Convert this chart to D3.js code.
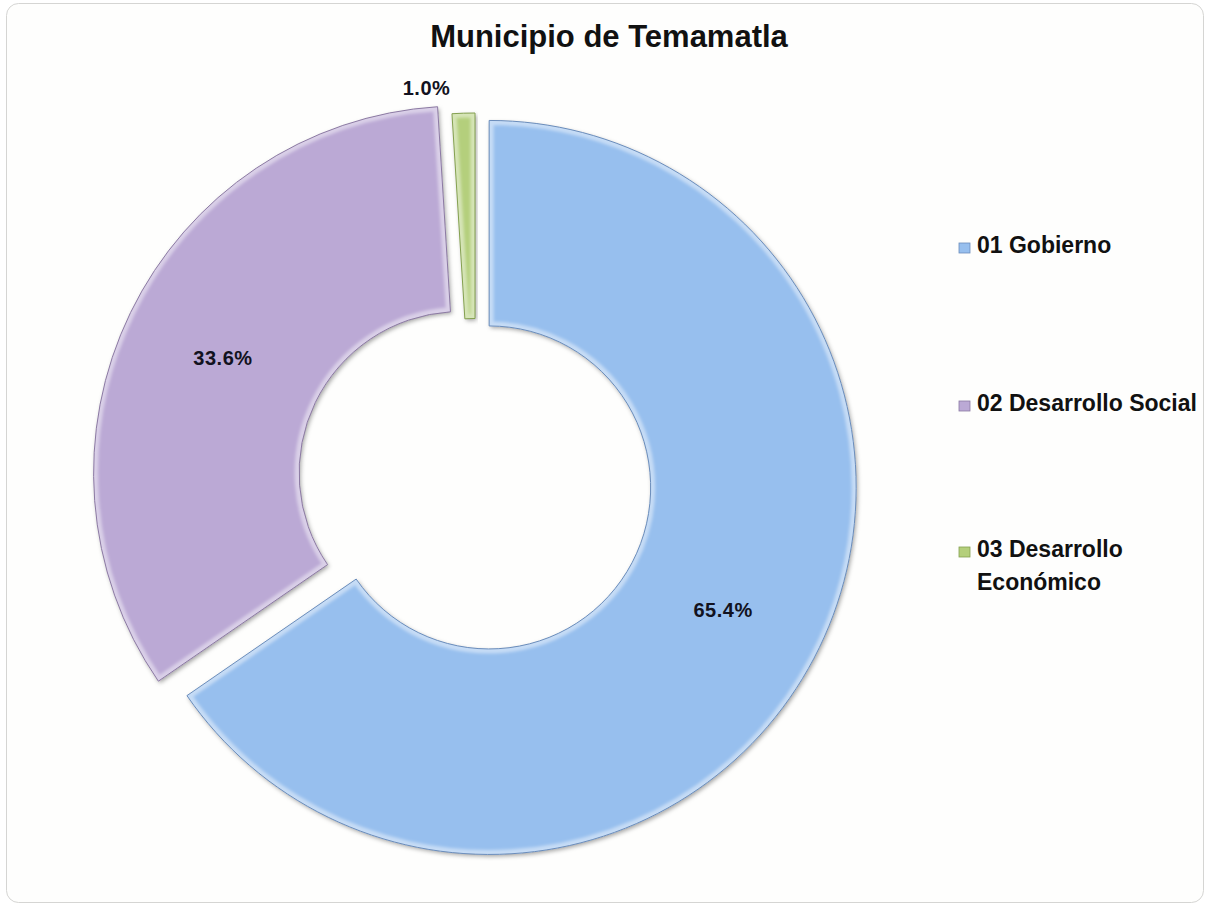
<!DOCTYPE html>
<html>
<head>
<meta charset="utf-8">
<script src="https://cdn.jsdelivr.net/npm/d3@7"></script>
<style>
  body { margin: 0; background: #ffffff; }
  svg text { font-family: "Liberation Sans", Arial, Helvetica, sans-serif; font-weight: bold; }
</style>
</head>
<body>
<svg id="chart" width="1206" height="905"></svg>
<script>
// chart data
const title = 'Municipio de Temamatla';
const categories = ['01 Gobierno', '02 Desarrollo Social', '03 Desarrollo Económico'];
const values = [65.4, 33.6, 1.0];
const colours = ['#97bfee', '#bba9d5', '#b4cf7b'];
const edgeColours = ['#6b8dbb', '#8c7aa3', '#84a050'];
const explode = [16, 16, 0];

const svg = d3.select('#chart'),
    width = +svg.attr('width'),
    height = +svg.attr('height');

const cx = 475, cy = 480,
    outerR = 367, innerR = 161.5;

const defs = svg.append('defs');

const shadow = defs.append('filter')
    .attr('id', 'shadow')
    .attr('x', '-10%').attr('y', '-10%')
    .attr('width', '120%').attr('height', '120%');
shadow.append('feDropShadow')
    .attr('dx', 1.5).attr('dy', 2)
    .attr('stdDeviation', 2)
    .attr('flood-color', '#000')
    .attr('flood-opacity', 0.35);

const soft = defs.append('filter').attr('id', 'soft');
soft.append('feGaussianBlur').attr('stdDeviation', 1.8);

// card background
svg.append('rect')
    .attr('x', 6.5).attr('y', 3.5)
    .attr('width', width - 9).attr('height', height - 6)
    .attr('rx', 12)
    .attr('fill', '#fefefd')
    .attr('stroke', '#d5d5d3');

svg.append('text')
    .attr('x', 609).attr('y', 47)
    .attr('text-anchor', 'middle')
    .attr('font-size', 31)
    .attr('fill', '#111')
    .text(title);

const pie = d3.pie().sort(null).value(d => d);
const arcs = pie(values);

const arc = d3.arc().innerRadius(innerR).outerRadius(outerR);

function offset(d, i) {
  const mid = (d.startAngle + d.endAngle) / 2;
  return [cx + explode[i] * Math.sin(mid), cy - explode[i] * Math.cos(mid)];
}

arcs.forEach(function(d, i) {
  defs.append('clipPath').attr('id', 'clip' + i)
    .append('path').attr('d', arc(d));
});

const slice = svg.append('g')
    .attr('class', 'slices')
    .selectAll('g')
    .data(arcs)
    .enter().append('g')
    .attr('transform', (d, i) => 'translate(' + offset(d, i) + ')');

slice.append('path')
    .attr('d', arc)
    .attr('fill', (d, i) => colours[i])
    .attr('filter', 'url(#shadow)');

// soft bevel highlight along the edges
slice.append('g')
    .attr('clip-path', (d, i) => 'url(#clip' + i + ')')
  .append('path')
    .attr('d', arc)
    .attr('fill', 'none')
    .attr('stroke', '#ffffff')
    .attr('stroke-opacity', 0.45)
    .attr('stroke-width', 9)
    .attr('filter', 'url(#soft)');

slice.append('path')
    .attr('d', arc)
    .attr('fill', 'none')
    .attr('stroke', (d, i) => edgeColours[i])
    .attr('stroke-width', 1);

// data labels
const fmt = d3.format('.1f');
const labelR = outerR + 26;
slice.append('text')
    .attr('font-size', 20)
    .attr('letter-spacing', 0.5)
    .attr('fill', '#121220')
    .attr('text-anchor', d => (d.endAngle - d.startAngle) < 0.2 ? 'end' : 'middle')
    .attr('x', function(d) {
      if ((d.endAngle - d.startAngle) < 0.2) { return labelR * Math.sin(d.startAngle); }
      return arc.centroid(d)[0];
    })
    .attr('y', function(d) {
      if ((d.endAngle - d.startAngle) < 0.2) { return -labelR * Math.cos(d.startAngle) + 7; }
      return arc.centroid(d)[1] + 7;
    })
    .text(d => fmt(d.data) + '%');

// legend
const legendY = [253, 411, 557];
const legend = svg.append('g')
    .attr('class', 'legend')
    .selectAll('g')
    .data(categories)
    .enter().append('g')
    .attr('transform', (d, i) => 'translate(959,' + legendY[i] + ')');

legend.append('rect')
    .attr('x', 0).attr('y', -10)
    .attr('width', 11).attr('height', 10)
    .attr('fill', (d, i) => colours[i])
    .attr('stroke', (d, i) => edgeColours[i])
    .attr('stroke-width', 0.8);

legend.append('text')
    .attr('x', 18)
    .attr('font-size', 23)
    .attr('fill', '#111')
    .each(function(d) {
      const t = d3.select(this);
      const words = d.split(' ');
      let line = [];
      let tspan = t.append('tspan').attr('x', 18).attr('dy', 0);
      words.forEach(function(w) {
        line.push(w);
        tspan.text(line.join(' '));
        if (tspan.node().getComputedTextLength() > 228 && line.length > 1) {
          line.pop();
          tspan.text(line.join(' '));
          line = [w];
          tspan = t.append('tspan').attr('x', 18).attr('dy', 33).text(w);
        }
      });
    });
</script>
</body>
</html>
